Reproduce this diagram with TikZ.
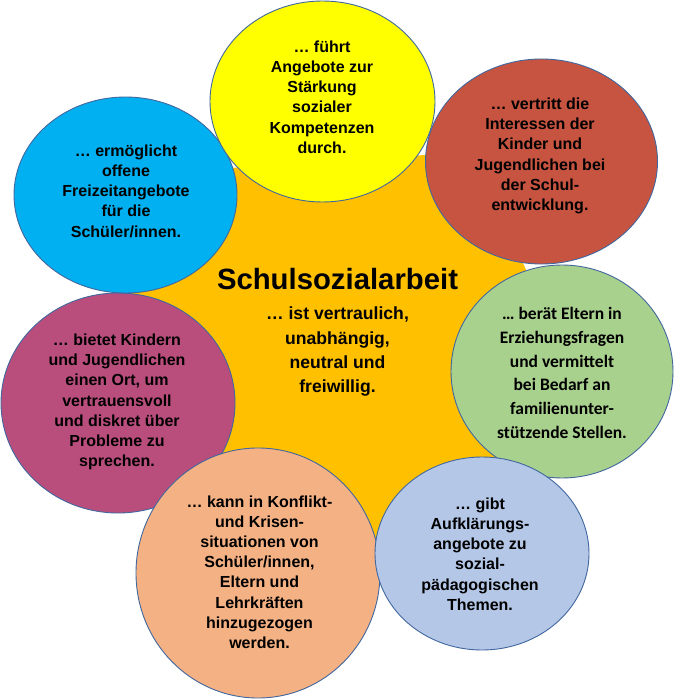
\documentclass[tikz,border=0pt]{standalone}
\usepackage{fontspec}
\setmainfont{Liberation Sans}
\newfontfamily\calibfont{Carlito}
\usetikzlibrary{shapes.geometric}
\definecolor{cline}{HTML}{41679F}
\definecolor{ccenter}{HTML}{FFC000}
\definecolor{cyel}{HTML}{FFFF00}
\definecolor{cblue}{HTML}{00B0F0}
\definecolor{cred}{HTML}{C65441}
\definecolor{cgreen}{HTML}{A9D18E}
\definecolor{clblue}{HTML}{B4C7E7}
\definecolor{corng}{HTML}{F4B183}
\definecolor{cmag}{HTML}{B94E7D}
\begin{document}
\begin{tikzpicture}[x=1pt,y=-1pt,
  bub/.style={ellipse, draw=cline, line width=0.9pt, inner sep=0pt},
  txt/.style={align=center, inner sep=0pt, text=black, font=\bfseries\fontsize{16}{20.2}\selectfont},
  txtc/.style={align=center, inner sep=0pt, text=black, font=\calibfont\bfseries\fontsize{17.5}{23.7}\selectfont},
  ttl/.style={inner sep=0pt, text=black, font=\bfseries\fontsize{29.3}{34}\selectfont},
  body/.style={align=center, inner sep=0pt, text=black, font=\bfseries\fontsize{17.6}{24.3}\selectfont}]
\useasboundingbox (0,0) rectangle (678,700);
\fill[white] (0,0) rectangle (678,700);
% central shape
\fill[ccenter] (200,170) -- (470,152) -- (550,320) -- (500,470) -- (360,560) -- (200,480) -- (130,420) -- (130,260) -- cycle;
% bubbles
\node[bub, fill=cmag, minimum width=234pt, minimum height=220pt] (mag) at (118,403) {};
\node[bub, fill=cblue, minimum width=223pt, minimum height=196pt] (blu) at (125.5,195) {};
\node[bub, fill=cred, minimum width=232pt, minimum height=205pt] (red) at (541.5,161.5) {};
\node[bub, fill=cgreen, minimum width=222pt, minimum height=213pt] (grn) at (562,371.5) {};
\node[bub, fill=corng, minimum width=244pt, minimum height=250pt] (org) at (258,573) {};
\node[bub, fill=clblue, minimum width=214pt, minimum height=193pt] (lbl) at (482,553.5) {};
\node[bub, fill=cyel, minimum width=225pt, minimum height=201pt] (yel) at (322.5,101.5) {};
% texts
\node[txt] (yelT) at (322,97) {… führt\\Angebote zur\\Stärkung\\sozialer\\Kompetenzen\\durch.};
\node[txt] (bluT) at (126,191) {… ermöglicht\\offene\\Freizeitangebote\\für die\\Schüler/innen.};
\node[txt] (redT) at (540,156) {… vertritt die\\Interessen der\\Kinder und\\Jugendlichen bei\\der Schul-\\entwicklung.};
\node[txt] (magT) at (117,402) {… bietet Kindern\\und Jugendlichen\\einen Ort, um\\vertrauensvoll\\und diskret über\\Probleme zu\\sprechen.};
\node[txtc] (grnT) at (562,373) {… berät Eltern in\\Erziehungsfragen\\und vermittelt\\bei Bedarf an\\familienunter-\\stützende Stellen.};
\node[txt] (lblT) at (480,554) {… gibt\\Aufklärungs-\\angebote zu\\sozial-\\pädagogischen\\Themen.};
\node[txt] (orgT) at (259.5,572) {… kann in Konflikt-\\und Krisen-\\situationen von\\Schüler/innen,\\Eltern und\\Lehrkräften\\hinzugezogen\\werden.};
\node[ttl] (title) at (337.5,279.5) {Schulsozialarbeit};
\node[body] (bodyT) at (337.5,351.7) {… ist vertraulich,\\unabhängig,\\neutral und\\freiwillig.};
\end{tikzpicture}
\end{document}
